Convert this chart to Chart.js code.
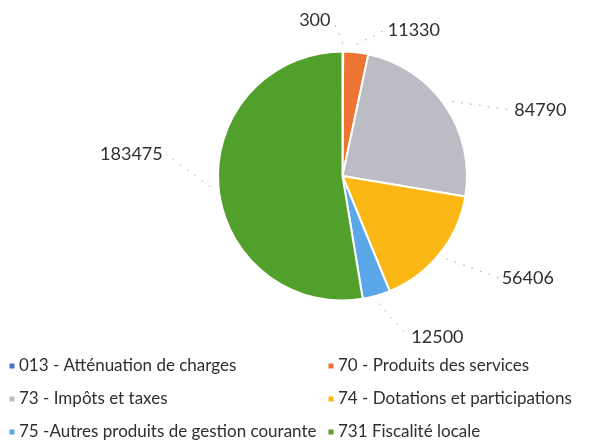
<!DOCTYPE html>
<html>
<head>
<meta charset="utf-8">
<script src="https://cdn.jsdelivr.net/npm/chart.js@4/dist/chart.umd.min.js"></script>
<style>
html,body{margin:0;padding:0;background:#fff;}
#wrap{width:609px;height:448px;position:relative;}
</style>
</head>
<body>
<div id="wrap"><canvas id="c" width="609" height="448"></canvas></div>
<script>
const categories = [
  "013 - Atténuation de charges",
  "70 - Produits des services",
  "73 - Impôts et taxes",
  "74 - Dotations et participations",
  "75 -Autres produits de gestion courante",
  "731 Fiscalité locale"
];
const values = [300, 11330, 84790, 56406, 12500, 183475];
const valueLabels = ["300", "11330", "84790", "56406", "12500", "183475"];
const colors = ["#4472C4", "#EE7433", "#BCBCC4", "#FBB714", "#5AA8E8", "#52A02C"];

// label text offsets (px) relative to the outer point of each slice's mid-angle
const labelOffsets = [[-28, -31], [58, -22], [95, 4], [88, 24], [61, 41], [-87, -32]];
const FONT = "Lato, 'Open Sans', sans-serif";

const dataLabelPlugin = {
  id: 'dataLabels',
  afterDatasetsDraw(chart) {
    const ctx = chart.ctx;
    const meta = chart.getDatasetMeta(0);
    ctx.save();
    ctx.font = "18px " + FONT;
    ctx.textBaseline = 'middle';
    ctx.textAlign = 'center';
    meta.data.forEach((arc, i) => {
      const p = arc.getProps(['x', 'y', 'startAngle', 'endAngle', 'outerRadius'], true);
      const mid = (p.startAngle + p.endAngle) / 2;
      const ox = p.x + Math.cos(mid) * p.outerRadius;
      const oy = p.y + Math.sin(mid) * p.outerRadius;
      const tx = ox + labelOffsets[i][0];
      const ty = oy + labelOffsets[i][1];
      const tw = ctx.measureText(valueLabels[i]).width;
      const sx = ox + Math.cos(mid) * 8;
      const sy = oy + Math.sin(mid) * 8;
      const ex = tx + (sx < tx ? -tw / 2 - 3 : tw / 2 + 3);
      const ey = ty;
      ctx.strokeStyle = 'rgba(120,120,120,0.55)';
      ctx.lineWidth = 1;
      ctx.setLineDash([2, 7]);
      ctx.beginPath();
      ctx.moveTo(sx, sy);
      ctx.lineTo(ex, ey);
      ctx.stroke();
      ctx.setLineDash([]);
      ctx.fillStyle = '#2f2f2f';
      ctx.fillText(valueLabels[i], tx, ty);
    });
    ctx.restore();
  }
};

const legendCols = [12, 331];
const legendRows = [366, 399, 432];
const legendPlugin = {
  id: 'gridLegend',
  afterDraw(chart) {
    const ctx = chart.ctx;
    const items = chart.options.plugins.legend.labels.generateLabels(chart);
    ctx.save();
    ctx.font = "17px " + FONT;
    ctx.textBaseline = 'middle';
    ctx.textAlign = 'left';
    items.forEach((it, i) => {
      const x = legendCols[i % 2];
      const y = legendRows[Math.floor(i / 2)];
      ctx.fillStyle = it.fillStyle;
      ctx.fillRect(x - 2.5, y - 2.5, 5, 5);
      ctx.fillStyle = '#2f2f2f';
      ctx.fillText(it.text, x + 7, y);
    });
    ctx.restore();
  }
};

new Chart(document.getElementById('c'), {
  type: 'pie',
  data: {
    labels: categories,
    datasets: [{
      data: values,
      backgroundColor: colors,
      borderColor: '#ffffff',
      borderWidth: 2
    }]
  },
  options: {
    responsive: false,
    animation: false,
    layout: { padding: { top: 50, bottom: 146, left: 217, right: 141 } },
    plugins: {
      legend: { display: false },
      tooltip: { enabled: false }
    }
  },
  plugins: [dataLabelPlugin, legendPlugin]
});
</script>
</body>
</html>
